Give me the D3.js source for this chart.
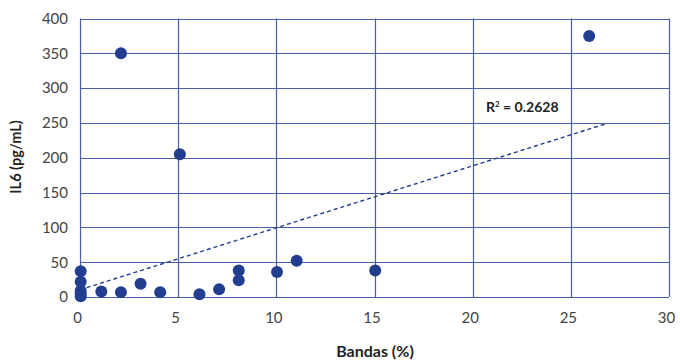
<!DOCTYPE html>
<html>
<head>
<meta charset="utf-8">
<script src="https://cdn.jsdelivr.net/npm/d3@7"></script>
<style>
  body { margin: 0; background: #fff; }
  svg { display: block; }
  .tick text { font-family: "Lato", "DejaVu Sans", sans-serif; fill: #444; }
</style>
</head>
<body>
<div id="chart"></div>
<script>
// data
const bandas = [0, 0, 0, 0, 0, 1.05, 2.05, 3.05, 4.05, 6.05, 7.05, 8.05, 8.05, 10.0, 11.0, 15.0, 2.05, 5.05, 25.9];
const il6    = [37, 22, 9, 5, 1, 8, 7, 19, 7, 4, 11, 38, 24, 36, 52, 38, 350, 205, 375];
const xTicks = [0, 5, 10, 15, 20, 25, 30];
const yTicks = [0, 50, 100, 150, 200, 250, 300, 350, 400];
// linear trendline as printed (slope, intercept, span)
const trendSlope = 8.9,
    trendIntercept = 10.4,
    trendSpan = [0, 26.85];
const r2Label = '0.2628';

const width = 680,
    height = 362;
const margin = { top: 18.5, right: 11, bottom: 65, left: 80 };

const gridColor = '#4a5da8',
    dotColor = '#223f8f';

const svg = d3.select('#chart').append('svg')
    .attr('width', width)
    .attr('height', height);

const x = d3.scaleLinear().domain([0, 30]).range([margin.left, width - margin.right]);
const y = d3.scaleLinear().domain([0, 400]).range([height - margin.bottom, margin.top]);

// grid
svg.append('g')
    .selectAll('line')
    .data(yTicks)
    .enter()
    .append('line')
    .attr('x1', x(0)).attr('x2', x(30))
    .attr('y1', d => Math.round(y(d)) + 0.5)
    .attr('y2', d => Math.round(y(d)) + 0.5)
    .attr('stroke', gridColor)
    .attr('stroke-width', 1.2);

svg.append('g')
    .selectAll('line')
    .data(xTicks)
    .enter()
    .append('line')
    .attr('y1', y(0)).attr('y2', y(400))
    .attr('x1', d => Math.round(x(d)) + 0.5)
    .attr('x2', d => Math.round(x(d)) + 0.5)
    .attr('stroke', gridColor)
    .attr('stroke-width', 1.2);

// axes (labels only)
const xAxis = svg.append('g')
    .attr('transform', 'translate(-3,' + (y(0) + 12) + ')')
    .call(d3.axisBottom(x).tickValues(xTicks).tickSize(0));
xAxis.select('.domain').remove();
xAxis.selectAll('text').attr('font-size', 15);

const yAxis = svg.append('g')
    .attr('transform', 'translate(' + (x(0) - 9) + ',0)')
    .call(d3.axisLeft(y).tickValues(yTicks).tickSize(0));
yAxis.select('.domain').remove();
yAxis.selectAll('text').attr('font-size', 15);

// trendline
svg.append('line')
    .attr('x1', x(trendSpan[0]))
    .attr('y1', y(trendIntercept + trendSlope * trendSpan[0]))
    .attr('x2', x(trendSpan[1]))
    .attr('y2', y(trendIntercept + trendSlope * trendSpan[1]))
    .attr('stroke', dotColor)
    .attr('stroke-width', 1.4)
    .attr('stroke-dasharray', '4,3');

// points
svg.append('g')
    .selectAll('circle')
    .data(bandas.map((b, i) => ({ b: b, v: il6[i] })))
    .enter()
    .append('circle')
    .attr('cx', d => x(d.b) + 0.7)
    .attr('cy', d => y(d.v))
    .attr('r', 6)
    .attr('fill', dotColor);

// R² label
const r2 = svg.append('text')
    .attr('x', 486)
    .attr('y', 112)
    .attr('font-family', '"Lato", "DejaVu Sans", sans-serif')
    .attr('font-weight', 'bold')
    .attr('font-size', 14)
    .attr('fill', '#222');
r2.append('tspan').text('R');
r2.append('tspan').attr('font-size', 8).attr('dy', -5).text('2');
r2.append('tspan').attr('dy', 5).text(' = ' + r2Label);

// axis titles
svg.append('text')
    .attr('x', 375)
    .attr('y', 357)
    .attr('text-anchor', 'middle')
    .attr('font-family', '"Lato", "DejaVu Sans", sans-serif')
    .attr('font-weight', 'bold')
    .attr('font-size', 16)
    .attr('fill', '#222')
    .text('Bandas (%)');

svg.append('text')
    .attr('transform', 'translate(21,157) rotate(-90)')
    .attr('text-anchor', 'middle')
    .attr('font-family', '"Lato", "DejaVu Sans", sans-serif')
    .attr('font-weight', 'bold')
    .attr('font-size', 14.5)
    .attr('fill', '#222')
    .text('IL6 (pg/mL)');
</script>
</body>
</html>
